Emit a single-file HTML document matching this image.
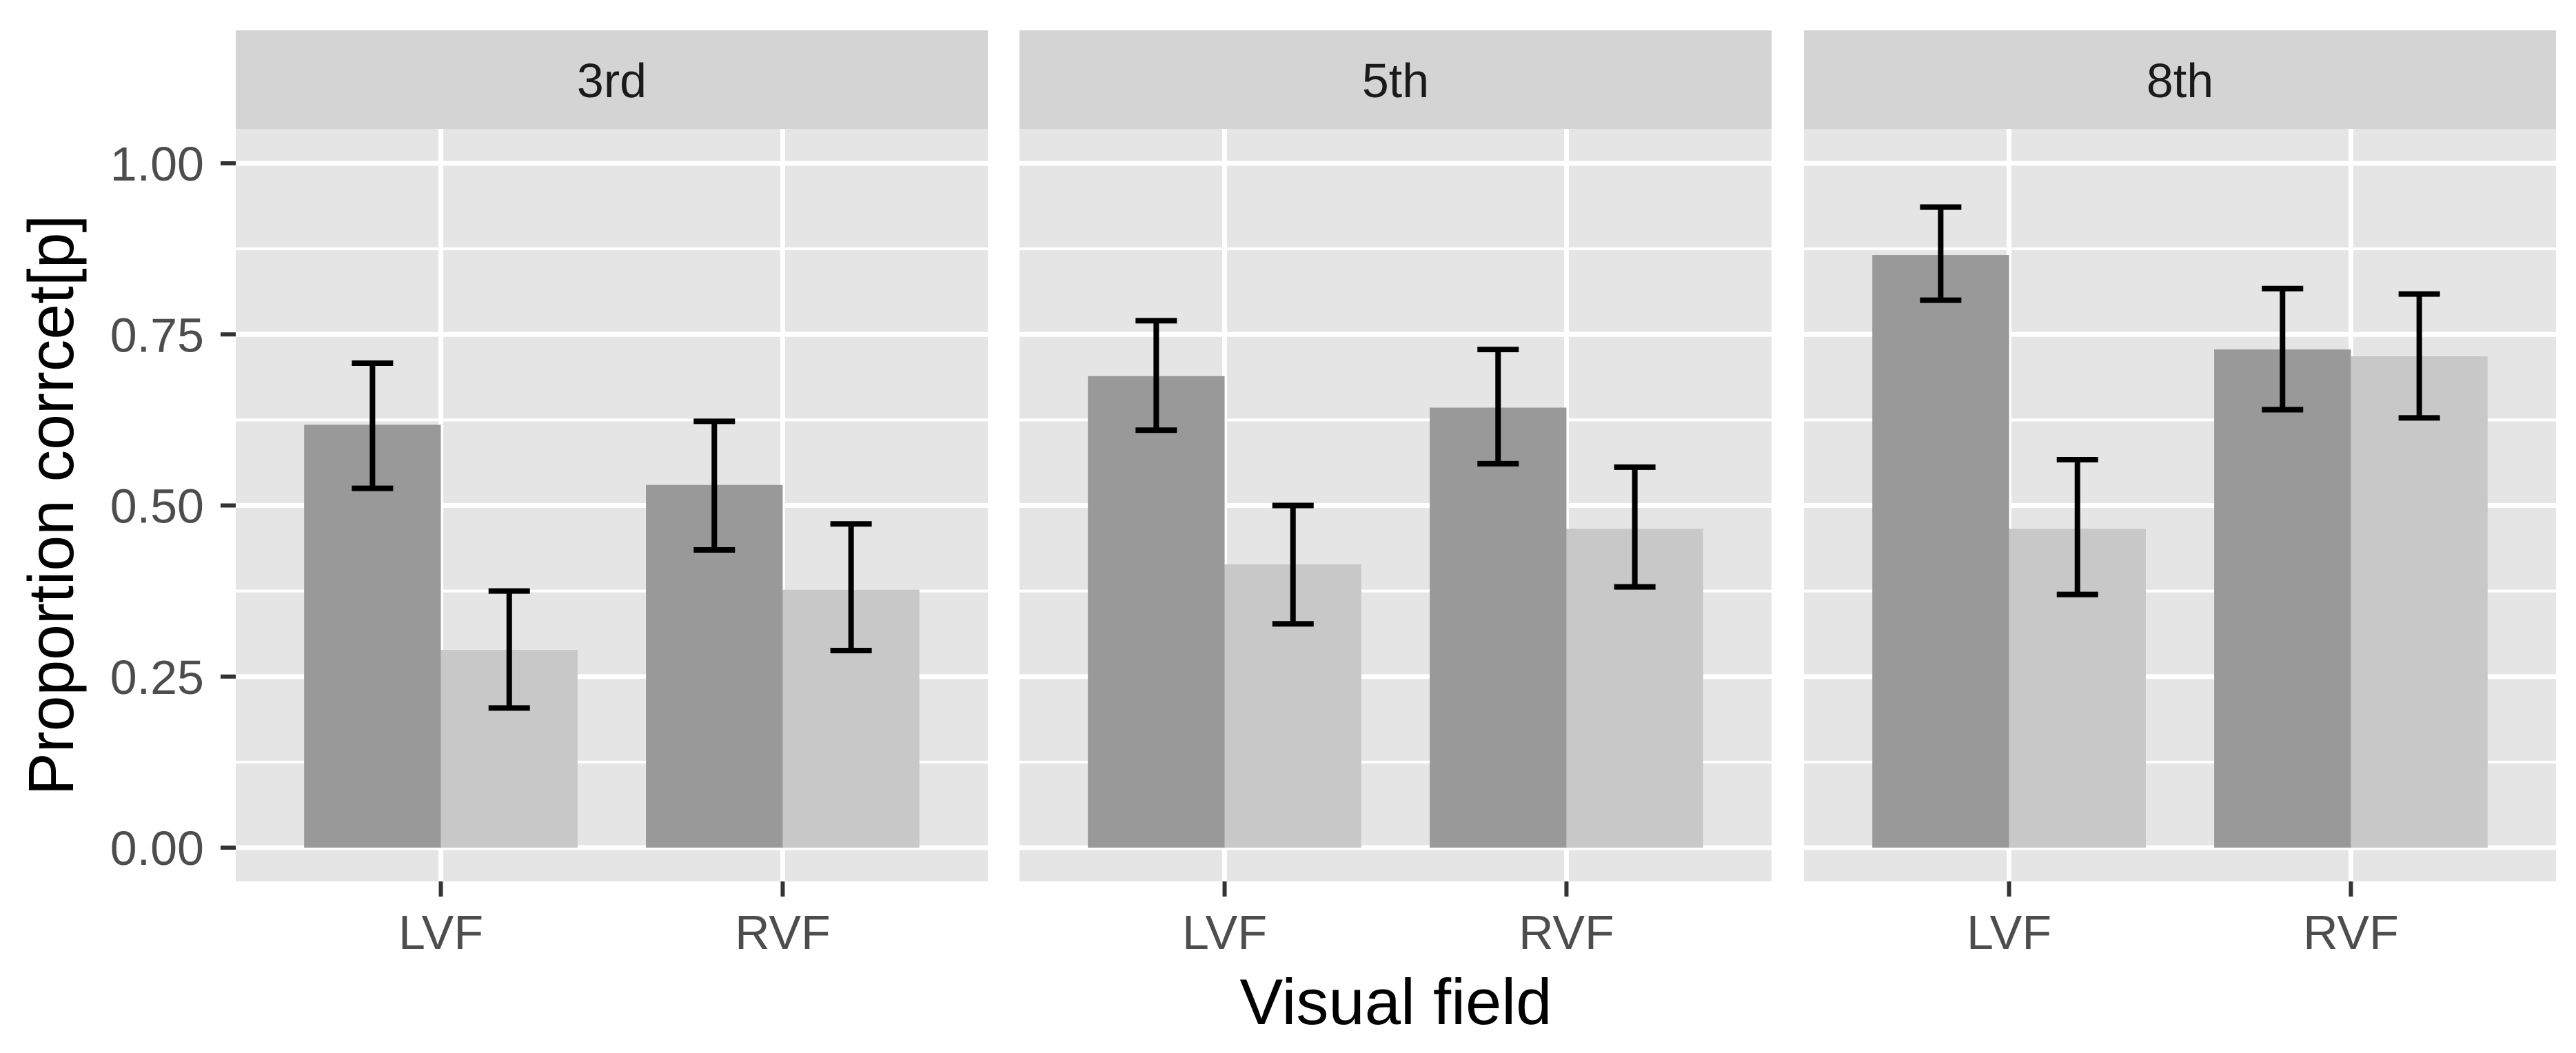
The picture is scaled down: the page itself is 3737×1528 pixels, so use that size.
<!DOCTYPE html>
<html><head><meta charset="utf-8"><style>
html,body{margin:0;padding:0;background:#fff;}
svg{display:block;font-family:"Liberation Sans",Arial,sans-serif;}
</style></head><body>
<svg id="chart" width="3737" height="1528" viewBox="0 0 3737 1528" xmlns="http://www.w3.org/2000/svg"></svg>
<script>
const facets = ["3rd", "5th", "8th"];
const categories = ["LVF", "RVF"];
const darkValues = [[0.618, 0.530], [0.689, 0.643], [0.866, 0.728]];
const darkLow = [[0.525, 0.435], [0.610, 0.561], [0.800, 0.640]];
const darkHigh = [[0.708, 0.623], [0.770, 0.728], [0.936, 0.817]];
const lightValues = [[0.289, 0.377], [0.414, 0.466], [0.466, 0.718]];
const lightLow = [[0.204, 0.288], [0.327, 0.381], [0.370, 0.628]];
const lightHigh = [[0.375, 0.473], [0.500, 0.556], [0.567, 0.809]];
const yTicks = [0, 0.25, 0.5, 0.75, 1.0];
const yTickLabels = ["0.00", "0.25", "0.50", "0.75", "1.00"];
const yMinor = [0.125, 0.375, 0.625, 0.875];

const svg = document.getElementById('chart');
const NS = "http://www.w3.org/2000/svg";
function mk(tag, attrs, parent) {
  const e = document.createElementNS(NS, tag);
  for (const k in attrs) e.setAttribute(k, attrs[k]);
  (parent || svg).appendChild(e);
  return e;
}
const panelLefts = [342, 1479, 2617];
const panelW = 1091;
const stripTop = 44, stripBot = 187, panelBot = 1279;
function yPos(v) { return 1230 - 993 * v; }
function xPos(p, u) { return panelLefts[p] + (u - 0.4) / 2.2 * panelW; }

facets.forEach((f, p) => {
  const L = panelLefts[p];
  const g = mk('g', {});
  
  
  const strip = mk('rect', {x: L, y: stripTop, width: panelW, height: stripBot - stripTop, fill: '#D4D4D4'}, g);
  
  
  const st = mk('text', {x: L + panelW / 2, y: 141, 'font-size': 70, fill: '#1A1A1A', 'text-anchor': 'middle'}, g);
  st.textContent = f;
  
  
  const bg = mk('rect', {x: L, y: stripBot, width: panelW, height: panelBot - stripBot, fill: '#E5E5E5'}, g);
  
  
  yMinor.forEach(v => {
    const l = mk('line', {x1: L, x2: L + panelW, y1: yPos(v), y2: yPos(v), stroke: '#fff', 'stroke-width': 4}, g);
    
    
  });
  yTicks.forEach(v => {
    const l = mk('line', {x1: L, x2: L + panelW, y1: yPos(v), y2: yPos(v), stroke: '#fff', 'stroke-width': 7}, g);
    
    
  });
  categories.forEach((c, i) => {
    const xc = xPos(p, i + 1);
    const l = mk('line', {x1: xc, x2: xc, y1: stripBot, y2: panelBot, stroke: '#fff', 'stroke-width': 7}, g);
    
    
  });
  categories.forEach((c, i) => {
    const xc = xPos(p, i + 1);
    const bw = xPos(p, 1.4) - xPos(p, 1.0);
    const series = [
      {v: darkValues[p][i], lo: darkLow[p][i], hi: darkHigh[p][i], x0: xc - bw, fill: '#999999', n: 'dark'},
      {v: lightValues[p][i], lo: lightLow[p][i], hi: lightHigh[p][i], x0: xc, fill: '#C8C8C8', n: 'light'}
    ];
    series.forEach(s => {
      const r = mk('rect', {x: s.x0, y: yPos(s.v), width: bw, height: yPos(0) - yPos(s.v), fill: s.fill}, g);
      
      
    });
    series.forEach(s => {
      const cx = s.x0 + bw / 2;
      const eg = mk('g', {stroke: '#000', 'stroke-width': 8, fill: 'none'}, g);
      
      
      mk('line', {x1: cx, x2: cx, y1: yPos(s.hi), y2: yPos(s.lo)}, eg);
      mk('line', {x1: cx - 30, x2: cx + 30, y1: yPos(s.hi), y2: yPos(s.hi)}, eg);
      mk('line', {x1: cx - 30, x2: cx + 30, y1: yPos(s.lo), y2: yPos(s.lo)}, eg);
    });
    const tk = mk('line', {x1: xc, x2: xc, y1: panelBot, y2: panelBot + 22, stroke: '#333', 'stroke-width': 6}, g);
    
    
    const tl = mk('text', {x: xc, y: 1377, 'font-size': 70, fill: '#4D4D4D', 'text-anchor': 'middle'}, g);
    tl.textContent = c;
    
    
  });
});

yTicks.forEach((v, i) => {
  const tk = mk('line', {x1: 320, x2: 342, y1: yPos(v), y2: yPos(v), stroke: '#333', 'stroke-width': 6});
  
  
  const t = mk('text', {x: 296, y: yPos(v) + 25, 'font-size': 70, fill: '#4D4D4D', 'text-anchor': 'end'});
  t.textContent = yTickLabels[i];
  
  
});

const yt = mk('text', {x: 0, y: 0, 'font-size': 93, fill: '#000', 'text-anchor': 'middle', transform: 'translate(106,733) rotate(-90)'});
yt.textContent = 'Proportion corrcet[p]';


const xt = mk('text', {x: 2025, y: 1486, 'font-size': 94, fill: '#000', 'text-anchor': 'middle'});
xt.textContent = 'Visual field';


</script>
</body></html>
